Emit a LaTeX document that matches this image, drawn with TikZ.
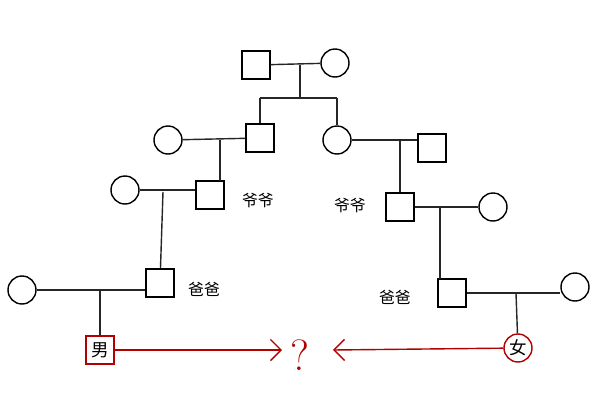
\documentclass[tikz,border=0pt]{standalone}
\usepackage{fontspec}
\newfontfamily\cjk{Noto Sans CJK SC}
\usetikzlibrary{arrows.meta, positioning}
\begin{document}
\begin{tikzpicture}[x=0.02cm, y=-0.02cm,
            male/.style={draw, thick, minimum size=0.56cm, inner sep=0pt},
            female/.style={draw, thick, circle, minimum size=0.56cm, inner sep=0pt},
            tag/.style={font=\cjk\small},
            line/.style={thick, black!85},
            red arrow/.style={-{Straight Barb[length=6pt]}, thick, red!70!black}
        ]
        \useasboundingbox (0,0) rectangle (600,400);
        % Top couple
        \node (gm) at (256,65) [male] {};
        \node (gf) at (335,63) [female] {};
        \coordinate (t1) at (300,65);
        \coordinate (t2) at (300,98);
        \draw [line] (gm) -- (gf);
        \draw [line] (t1) -- (t2);
        \draw [line] (260,98) -- (337,98);

        % Left branch
        \node (l1m) at (260,138) [male] {};
        \node (l1f) at (168,140) [female] {};
        \draw [line] (260,98) -- (l1m);
        \draw [line] (l1f) -- (l1m);
        \node (l2m) at (210,195) [male] {};
        \node (l2f) at (125,190) [female] {};
        \node at (258,200) [tag] {爷爷};
        \draw [line] (220,140) -- (220,181);
        \draw [line] (l2f.east) -- (l2m.west |- l2f.east);
        \node (l3m) at (160,283) [male] {};
        \node (l3f) at (22,290) [female] {};
        \node at (204,289) [tag] {爸爸};
        \draw [line] (163,192) -- (l3m);
        \draw [line] (l3f.east) -- (l3m.west |- l3f.east);
        \node (boy) at (100,350) [male, red!70!black, font=\cjk] {\textcolor{black}{男}};
        \draw [line] (100,290) -- (boy);

        % Right branch
        \node (r1f) at (337,140) [female] {};
        \node (r1m) at (432,148) [male] {};
        \draw [line] (337,98) -- (r1f);
        \draw [line] (r1f.east) -- (r1m.west |- r1f.east);
        \node (r2m) at (400,207) [male] {};
        \node (r2f) at (493,207) [female] {};
        \node at (350,205) [tag] {爷爷};
        \draw [line] (400,140) -- (r2m);
        \draw [line] (r2m) -- (r2f);
        \node (r3m) at (452,293) [male] {};
        \node (r3f) at (575,287) [female] {};
        \node at (395,297) [tag] {爸爸};
        \draw [line] (440,207) -- (440,279);
        \draw [line] (r3m.east) -- (r3f.west |- r3m.east);
        \node (girl) at (518,348) [female, red!70!black, font=\cjk] {\textcolor{black}{女}};
        \draw [line] (516,293) -- (girl);

        % Question
        \node (q) at (300,355) [red!70!black, font=\Huge] {?};
        \draw [red arrow] (boy) -- (282,350);
        \draw [red arrow] (girl) -- (333,350);
\end{tikzpicture}
\end{document}
